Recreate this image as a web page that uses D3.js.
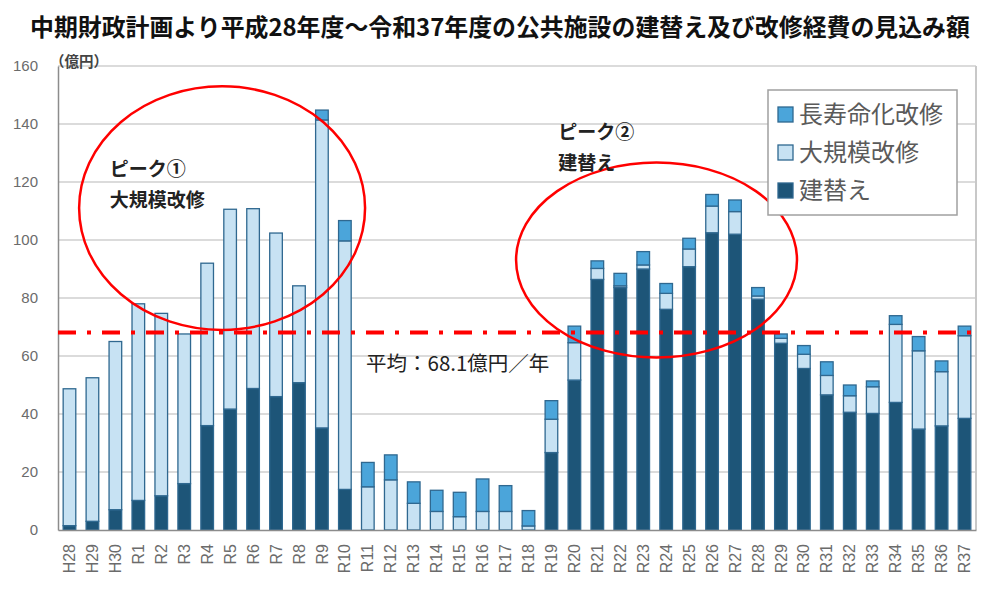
<!DOCTYPE html>
<html>
<head>
<meta charset="utf-8">
<script src="https://cdn.jsdelivr.net/npm/d3@7"></script>
<style>
  body { margin: 0; background: #fff; }
  text { font-family: "Liberation Sans", Arial, sans-serif; }
  .jp { font-family: "Noto Sans CJK JP", "Noto Sans", sans-serif; }
</style>
</head>
<body>
<script>
// categories (fiscal years)
const years = ["H28", "H29", "H30", "R1", "R2", "R3", "R4", "R5", "R6", "R7", "R8", "R9", "R10",
  "R11", "R12", "R13", "R14", "R15", "R16", "R17", "R18", "R19", "R20", "R21", "R22", "R23", "R24",
  "R25", "R26", "R27", "R28", "R29", "R30", "R31", "R32", "R33", "R34", "R35", "R36", "R37"];

// 建替え (億円)
const rebuild = [1.5, 3, 7, 10.2, 11.8, 16, 36, 41.7, 48.8, 46, 50.8, 35.2, 14,
  0, 0, 0, 0, 0, 0, 0, 0, 26.7, 51.7, 86.4, 83.6, 90, 76.1,
  90.8, 102.5, 102, 79.6, 64.4, 55.7, 46.6, 40.6, 40.2, 44, 34.8, 35.9, 38.5];

// 大規模改修 (億円)
const majorRepair = [47.2, 49.5, 58, 67.8, 62.9, 51.6, 56, 68.9, 62, 56.4, 33.4, 106.2, 85.7,
  14.9, 17.3, 9.2, 6.4, 4.6, 6.4, 6.4, 1.4, 11.5, 12.9, 3.8, 0.6, 1.4, 5.5,
  6.1, 9.2, 7.8, 1.1, 1.7, 4.9, 6.7, 5.7, 9.2, 26.9, 27, 18.7, 28.5];

// 長寿命化改修 (億円)
const lifeExt = [0, 0, 0, 0, 0, 0, 0, 0, 0, 0, 0, 3.4, 7,
  8.4, 8.6, 7.4, 7.3, 8.4, 11.2, 8.9, 5.3, 6.4, 5.7, 2.6, 4.3, 4.6, 3.4,
  3.7, 4, 4, 2.9, 1.5, 3, 4.7, 3.7, 2, 3, 4.9, 3.7, 3.3];

const yTicks = [0, 20, 40, 60, 80, 100, 120, 140, 160];
const average = 68.1;

const seriesKeys = ["建替え", "大規模改修", "長寿命化改修"];
const legendOrder = ["長寿命化改修", "大規模改修", "建替え"];
const colors = { "建替え": "#1d5578", "大規模改修": "#c7e2f3", "長寿命化改修": "#4ba5da" };

const width = 1001, height = 599;
const margin = { top: 66, right: 25, bottom: 69, left: 58 };

const svg = d3.select("body").append("svg")
  .attr("width", width)
  .attr("height", height);

const x = d3.scaleBand()
  .domain(years)
  .range([margin.left, width - margin.right])
  .paddingInner(0.45)
  .paddingOuter(0.225);

// index scale used for placing annotations between categories
const xi = d3.scaleLinear()
  .domain([0, years.length])
  .range([margin.left, width - margin.right]);

const y = d3.scaleLinear()
  .domain([0, 160])
  .range([height - margin.bottom, margin.top]);

// title
svg.append("text")
  .attr("class", "jp")
  .attr("x", 30)
  .attr("y", 36)
  .attr("font-size", 23.9)
  .attr("font-weight", "bold")
  .attr("fill", "#111")
  .text("中期財政計画より平成28年度～令和37年度の公共施設の建替え及び改修経費の見込み額");

// grid
svg.append("g")
  .selectAll("line")
  .data(yTicks.slice(1))
  .join("line")
  .attr("x1", margin.left)
  .attr("x2", width - margin.right)
  .attr("y1", d => y(d))
  .attr("y2", d => y(d))
  .attr("stroke", "#cfcfcf")
  .attr("stroke-width", 1.5);

// right border
svg.append("line")
  .attr("x1", width - margin.right).attr("x2", width - margin.right)
  .attr("y1", y(160)).attr("y2", y(0))
  .attr("stroke", "#c8c8c8").attr("stroke-width", 2);

// y axis
const yAxis = svg.append("g")
  .attr("transform", `translate(${margin.left},0)`)
  .call(d3.axisLeft(y).tickValues(yTicks).tickSize(0).tickPadding(20));
yAxis.select(".domain").attr("stroke", "#8c8c8c").attr("stroke-width", 1.5);
yAxis.selectAll("text").attr("font-size", 15).attr("fill", "#6b6b6b");

// stacked bars
const table = years.map((yr, i) => ({
  year: yr,
  "建替え": rebuild[i],
  "大規模改修": majorRepair[i],
  "長寿命化改修": lifeExt[i]
}));

const stacked = d3.stack().keys(seriesKeys)(table);

svg.append("g")
  .selectAll("g")
  .data(stacked)
  .join("g")
  .attr("fill", d => colors[d.key])
  .selectAll("rect")
  .data(d => d.filter(s => s[1] - s[0] > 0))
  .join("rect")
  .attr("x", d => x(d.data.year))
  .attr("width", x.bandwidth())
  .attr("y", d => y(d[1]))
  .attr("height", d => y(d[0]) - y(d[1]))
  .attr("stroke", "#2f6890")
  .attr("stroke-width", 1.3);

// x axis
const xAxis = svg.append("g")
  .attr("transform", `translate(0,${y(0)})`)
  .call(d3.axisBottom(x).tickSize(0).tickPadding(0));
xAxis.select(".domain").attr("stroke", "#8c8c8c").attr("stroke-width", 1.5);
xAxis.selectAll("text")
  .attr("font-size", 16)
  .attr("fill", "#6b6b6b")
  .attr("transform", "rotate(-90)")
  .attr("text-anchor", "end")
  .attr("dy", "0.35em")
  .attr("x", -14)
  .attr("y", 0);

// unit label
svg.append("text")
  .attr("class", "jp")
  .attr("x", 50)
  .attr("y", 67)
  .attr("font-size", 14.5)
  .attr("font-weight", "bold")
  .attr("fill", "#444")
  .text("（億円）");

// average line
svg.append("line")
  .attr("x1", margin.left)
  .attr("x2", width - margin.right)
  .attr("y1", y(average))
  .attr("y2", y(average))
  .attr("stroke", "#ff0000")
  .attr("stroke-width", 4)
  .attr("stroke-dasharray", "18 11 4 11");

svg.append("text")
  .attr("class", "jp")
  .attr("x", 366)
  .attr("y", 371)
  .attr("font-size", 20.5)
  .attr("fill", "#222")
  .text(`平均：${average}億円／年`);

// peak ellipses (data coords)
const peaks = [
  { cx: 7.15, cy: 111, rx: 6.23, ry: 42, label: ["ピーク①", "大規模改修"], tx: 2.26, ty: 122 },
  { cx: 26.08, cy: 93.1, rx: 6.12, ry: 33.6, label: ["ピーク②", "建替え"], tx: 21.8, ty: 135 }
];

svg.append("g")
  .selectAll("ellipse")
  .data(peaks)
  .join("ellipse")
  .attr("cx", d => xi(d.cx))
  .attr("cy", d => y(d.cy))
  .attr("rx", d => xi(d.rx) - xi(0))
  .attr("ry", d => y(0) - y(d.ry))
  .attr("fill", "none")
  .attr("stroke", "#ff0000")
  .attr("stroke-width", 2.5);

const ann = svg.append("g")
  .selectAll("text")
  .data(peaks)
  .join("text")
  .attr("class", "jp")
  .attr("font-size", 19)
  .attr("font-weight", "bold")
  .attr("fill", "#222");
ann.selectAll("tspan")
  .data(d => d.label.map((t, k) => ({ t, k, d })))
  .join("tspan")
  .attr("x", e => xi(e.d.tx))
  .attr("y", e => y(e.d.ty) + e.k * 31)
  .text(e => e.t);

// legend
const lg = svg.append("g").attr("transform", "translate(768,90)");
lg.append("rect")
  .attr("width", 189).attr("height", 125)
  .attr("fill", "#fff").attr("stroke", "#a0a0a0").attr("stroke-width", 1.5);
const items = lg.selectAll("g.item")
  .data(legendOrder)
  .join("g")
  .attr("class", "item")
  .attr("transform", (d, i) => `translate(10,${25 + i * 38})`);
items.append("rect")
  .attr("y", -8).attr("width", 15).attr("height", 15)
  .attr("fill", d => colors[d])
  .attr("stroke", "#2f6890").attr("stroke-width", 1.3);
items.append("text")
  .attr("class", "jp")
  .attr("x", 21)
  .attr("dy", "0.35em")
  .attr("font-size", 24)
  .attr("fill", "#5a5a5a")
  .text(d => d);
</script>
</body>
</html>
